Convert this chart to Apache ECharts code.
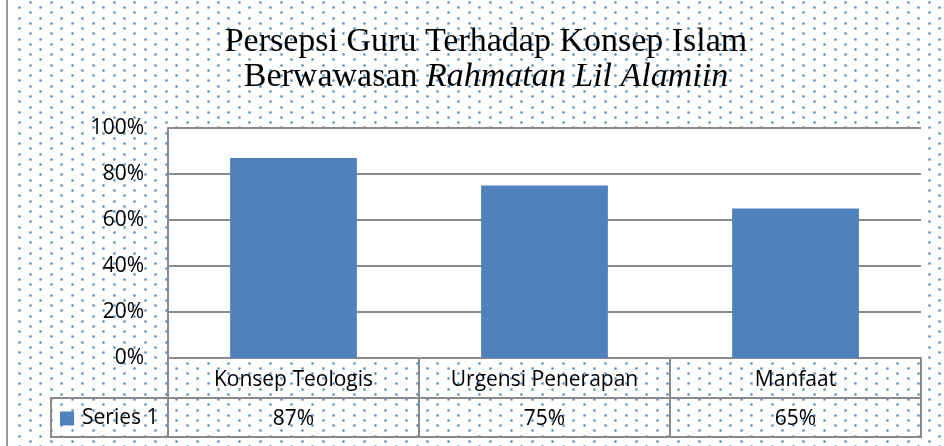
<!DOCTYPE html>
<html>
<head>
<meta charset="utf-8">
<script src="https://cdn.jsdelivr.net/npm/echarts@6/dist/echarts.min.js"></script>
<style>
html,body{margin:0;padding:0;background:#fff;}
#c{width:944px;height:446px;}
</style>
</head>
<body>
<div id="c"></div>
<script>
var categories = ['Konsep Teologis', 'Urgensi Penerapan', 'Manfaat'];
var seriesName = 'Series 1';
var seriesValues = [0.87, 0.75, 0.65];
var yTicks = [0, 0.2, 0.4, 0.6, 0.8, 1.0];
var titleLine1 = 'Persepsi Guru Terhadap Konsep Islam';
var titleLine2a = 'Berwawasan ';
var titleLine2b = 'Rahmatan Lil Alamiin';

// dotted background texture (quincunx dot pattern)
var W = 944, H = 446;
var bg = document.createElement('canvas');
bg.width = W; bg.height = H;
var g = bg.getContext('2d');
g.fillStyle = '#ffffff';
g.fillRect(0, 0, W, H);
var colStep = 10.45, rowStep = 5.225;
for (var r = 0; r * rowStep < H + 6; r++) {
  var y = Math.round(2 + r * rowStep);
  for (var c = 0; c * colStep < W + 12; c++) {
    if ((c + r) % 2) continue;
    var x = Math.round(9 + c * colStep);
    if (x < 10) continue;
    g.fillStyle = 'rgb(190,210,236)';
    g.fillRect(x - 1, y - 1, 3, 3);
    g.fillStyle = 'rgb(140,175,222)';
    g.fillRect(x - 1, y, 3, 1);
    g.fillRect(x, y - 1, 1, 3);
    g.fillStyle = 'rgb(84,132,202)';
    g.fillRect(x, y, 1, 1);
  }
}

var chart = echarts.init(document.getElementById('c'), null, {renderer: 'canvas'});
var lineCol = '#8a8a8a';
var sansFont = 'Open Sans';

chart.setOption({
  animation: false,
  backgroundColor: {image: bg, repeat: 'no-repeat'},
  title: {
    text: '{n|' + titleLine1 + '}\n{n|' + titleLine2a + '}{i|' + titleLine2b + '}',
    left: 481,
    top: 20,
    textAlign: 'center',
    textStyle: {
      fontWeight: 'normal',
      rich: {
        n: {fontFamily: 'Liberation Serif', fontSize: 34, fontWeight: 'normal', color: '#000', lineHeight: 35},
        i: {fontFamily: 'Liberation Serif', fontSize: 34, fontWeight: 'normal', fontStyle: 'italic', color: '#000', lineHeight: 35}
      }
    }
  },
  legend: {
    left: 55,
    top: 403,
    icon: 'rect',
    itemWidth: 14,
    itemHeight: 14,
    itemGap: 5,
    textStyle: {fontFamily: sansFont, fontSize: 21, color: '#000', padding: [0, 0, 0, 3]},
    data: [seriesName]
  },
  grid: {
    left: 168, right: 23, top: 128, bottom: 88,
    show: true, backgroundColor: '#ffffff', borderWidth: 0
  },
  xAxis: [
    {
      type: 'category',
      data: categories,
      position: 'bottom',
      axisLine: {show: true, lineStyle: {color: lineCol, width: 2}},
      axisTick: {show: true, length: 40, interval: 0, lineStyle: {color: lineCol, width: 2}},
      axisLabel: {interval: 0, margin: 12, fontFamily: sansFont, fontSize: 21, color: '#000'}
    },
    {
      type: 'category',
      data: categories,
      position: 'bottom',
      offset: 40,
      axisLine: {show: true, lineStyle: {color: lineCol, width: 2}},
      axisTick: {show: true, length: 39, interval: 0, lineStyle: {color: lineCol, width: 2}},
      axisLabel: {
        interval: 0, margin: 11, fontFamily: sansFont, fontSize: 21, color: '#000',
        formatter: function (v, i) { return Math.round(seriesValues[i] * 100) + '%'; }
      }
    }
  ],
  yAxis: {
    type: 'value',
    min: yTicks[0],
    max: yTicks[yTicks.length - 1],
    interval: yTicks[1] - yTicks[0],
    axisLine: {show: true, lineStyle: {color: lineCol, width: 2}},
    axisTick: {show: false},
    splitLine: {show: true, lineStyle: {color: lineCol, width: 2}},
    axisLabel: {
      margin: 24, fontFamily: sansFont, fontSize: 21, color: '#000',
      formatter: function (v) { return Math.round(v * 100) + '%'; }
    }
  },
  series: [{
    name: seriesName,
    type: 'bar',
    xAxisIndex: 0,
    data: seriesValues,
    barWidth: '50.5%',
    itemStyle: {color: '#4f81bd'}
  }],
  graphic: [
    {type: 'rect', shape: {x: 0, y: 0, width: 7, height: 446}, style: {fill: '#ffffff'}, silent: true},
    {type: 'line', shape: {x1: 7, y1: 0, x2: 7, y2: 446}, style: {stroke: '#9a9a9a', lineWidth: 2}, silent: true},
    {type: 'line', shape: {x1: 51, y1: 398, x2: 168, y2: 398}, style: {stroke: lineCol, lineWidth: 2}, silent: true},
    {type: 'line', shape: {x1: 51, y1: 437, x2: 922, y2: 437}, style: {stroke: lineCol, lineWidth: 2}, silent: true},
    {type: 'line', shape: {x1: 51, y1: 397, x2: 51, y2: 438}, style: {stroke: lineCol, lineWidth: 2}, silent: true}
  ]
});
</script>
</body>
</html>
